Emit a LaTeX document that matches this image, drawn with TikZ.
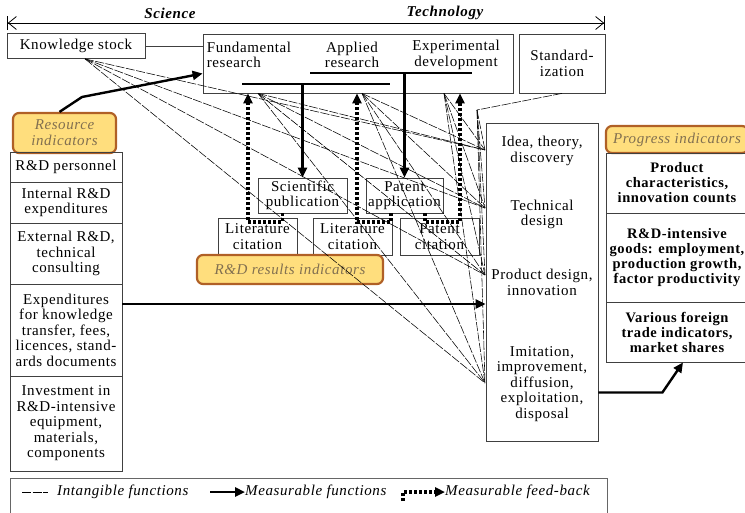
\documentclass[tikz,border=0pt]{standalone}
\usepackage{fontspec}
\setmainfont{Liberation Serif}[LetterSpace=4]
\usepackage{tikz}
\usetikzlibrary{arrows.meta}

\definecolor{indfill}{RGB}{255,222,125}
\definecolor{inddraw}{RGB}{176,96,38}
\definecolor{indtext}{RGB}{130,112,80}

\begin{document}
\begin{tikzpicture}[x=1pt, y=-1pt,
	box/.style={draw=black!75, line width=0.8pt, inner sep=0pt, align=center, font=\fontsize{15}{15.5}\selectfont},
	bbox/.style={box, font=\fontsize{14.5}{15}\selectfont\bfseries},
	ind/.style={draw=inddraw, fill=indfill, line width=2.2pt, rounded corners=6pt, inner sep=0pt, align=center, text=indtext, font=\fontsize{15}{16}\selectfont\itshape},
	txt/.style={inner sep=0pt, align=center, font=\fontsize{15}{15.5}\selectfont},
	legtxt/.style={inner sep=0pt, anchor=west, font=\fontsize{15}{16}\selectfont\itshape},
	intang/.style={line width=0.55pt, dash pattern=on 9pt off 1.5pt},
	meas/.style={line width=2.4pt, -{Triangle[length=10pt,width=9pt]}},
	feed/.style={line width=3.2pt, dash pattern=on 3pt off 2pt, -{Triangle[length=10pt,width=9pt]}}]

	\useasboundingbox (0, 0) rectangle (745, 512);

	\coordinate (scil) at (7, 23);
	\coordinate (tecr) at (605, 23);
	\draw[line width=0.8pt, arrows={{Bar[width=14pt]Straight Barb[length=8pt,width=13pt]}-{Straight Barb[length=8pt,width=13pt]Bar[width=14pt]}}] (scil) -- (tecr);
	\node[font=\fontsize{15}{16}\selectfont\bfseries\itshape] (sci) at (170, 13) {Science};
	\node[font=\fontsize{15}{16}\selectfont\bfseries\itshape] (tec) at (445, 13) {Technology};

	\node[box, minimum width=138, minimum height=25] (ks) at (76, 46) {Knowledge stock};
	\node[box, minimum width=310, minimum height=59] (res) at (358, 63.5) {};
	\node[txt, align=left] (fund) at (249, 55) {Fundamental\\research};
	\node[txt] (appl) at (352, 55) {Applied\\research};
	\node[txt] (expd) at (456, 55) {Experimental\\development};
	\node[box, minimum width=86, minimum height=59] (std) at (562, 63.5) {Standard-\\ization};

	\node[box, minimum width=112, minimum height=318] (idea) at (542, 282) {};
	\node[txt] (s1) at (542, 151) {Idea, theory,\\discovery};
	\node[txt] (s2) at (542, 214.5) {Technical\\design};
	\node[txt] (s3) at (542, 282.5) {Product design,\\innovation};
	\node[txt] (s4) at (542, 384) {Imitation,\\improvement,\\diffusion,\\exploitation,\\disposal};

	\node[ind, minimum width=142, minimum height=27] (prog) at (677, 139.5) {Progress indicators};
	\node[bbox, minimum width=142, minimum height=60] (p1) at (677, 183) {Product\\characteristics,\\innovation counts};
	\node[bbox, minimum width=142, minimum height=89] (p2) at (677, 257.5) {R\&D-intensive\\goods: employment,\\production growth,\\factor productivity};
	\node[bbox, minimum width=142, minimum height=60] (p3) at (677, 332) {Various foreign\\trade indicators,\\market shares};

	\node[ind, minimum width=103, minimum height=40] (ri) at (64.5, 133) {Resource\\indicators};
	\node[box, minimum width=112, minimum height=30] (l1) at (66, 167) {R\&D personnel};
	\node[box, minimum width=112, minimum height=41] (l2) at (66, 202.5) {Internal R\&D\\expenditures};
	\node[box, minimum width=112, minimum height=61] (l3) at (66, 253.5) {External R\&D,\\technical\\consulting};
	\node[box, minimum width=112, minimum height=92] (l4) at (66, 330) {Expenditures\\for knowledge\\transfer, fees,\\licences, stand-\\ards documents};
	\node[box, minimum width=112, minimum height=95] (l5) at (66, 423.5) {Investment in\\R\&D-intensive\\equipment,\\materials,\\components};

	\node[box, minimum width=89, minimum height=35] (sp) at (302.5, 195.5) {Scientific\\publication};
	\node[box, minimum width=77, minimum height=35] (pa) at (404.5, 195.5) {Patent\\application};
	\node[box, minimum width=79, minimum height=37] (lc1) at (257.5, 236.5) {Literature\\citation};
	\node[box, minimum width=79, minimum height=37] (lc2) at (352.5, 236.5) {Literature\\citation};
	\node[box, minimum width=79, minimum height=37] (pc) at (439.5, 236.5) {Patent\\citation};
	\node[ind, minimum width=186, minimum height=29] (rr) at (290, 269.5) {R\&D results indicators};

	\node[draw=black!60, line width=0.8pt, inner sep=0pt, minimum width=597, minimum height=50, anchor=north west] (leg) at (10, 478) {};
	\node[legtxt] (lt1) at (57, 492) {Intangible functions};
	\node[legtxt] (lt2) at (245, 492) {Measurable functions};
	\node[legtxt] (lt3) at (445, 492) {Measurable feed-back};

	\draw[line width=0.8pt, draw=black!75] (ks.east) -- (ks.east -| res.west);

	\coordinate (barA) at (310, 73);
	\coordinate (barF) at (242, 84);
	\draw[line width=1.3pt] (barA) -- ++(162, 0);
	\draw[line width=1.3pt] (barF) -- ++(148, 0);
	\draw[meas] (sp.north |- barF) -- (sp.north);
	\draw[meas] (pa.north |- barA) -- (pa.north);

	\coordinate (fb1) at (248, 222);
	\coordinate (fb2) at (357, 222);
	\coordinate (fb3) at (460, 222);
	\draw[feed] ([xshift=-20pt]sp.south) |- (fb1) -- (fb1 |- res.south);
	\draw[feed] ([xshift=-13.5pt]pa.south) |- (fb2) -- (fb2 |- res.south);
	\draw[feed] ([xshift=20.5pt]pa.south) |- (fb3) -- (fb3 |- res.south);

	\coordinate (rbend) at (82, 97);
	\draw[meas] ([xshift=-5pt]ri.north) -- (rbend) -- ([yshift=-10pt]res.west);
	\draw[meas] ([yshift=26pt]l4.east) -- ([yshift=26pt]l4.east -| idea.west);
	\draw[meas] ([yshift=-110.5pt]idea.east) -- ++(64, 0) -- ([xshift=6pt]p3.south);

	\coordinate (kS) at ([xshift=9pt]ks.south);
	\coordinate (fS) at ([xshift=-100pt]res.south);
	\coordinate (aS) at ([xshift=4pt]res.south);
	\coordinate (eS) at ([xshift=86pt]res.south);
	\coordinate (sS) at (477, 110);
	\coordinate (st1) at (485, 150);
	\coordinate (st2) at (485, 208);
	\coordinate (st3) at (485, 275);
	\coordinate (st4) at (485, 383);

	\path[intang] (std.south) edge (sS);
	\path[intang] (kS) edge (st1);
	\path[intang] (kS) edge (st2);
	\path[intang] (kS) edge (st3);
	\path[intang] (kS) edge (st4);
	\path[intang] (fS) edge (st1);
	\path[intang] (fS) edge (st2);
	\path[intang] (fS) edge (st3);
	\path[intang] (fS) edge (st4);
	\path[intang] (aS) edge (st1);
	\path[intang] (aS) edge (st2);
	\path[intang] (aS) edge (st3);
	\path[intang] (aS) edge (st4);
	\path[intang] (eS) edge (st1);
	\path[intang] (eS) edge (st2);
	\path[intang] (eS) edge (st3);
	\path[intang] (eS) edge (st4);
	\path[intang] (sS) edge (st1);
	\path[intang] (sS) edge (st2);
	\path[intang] (sS) edge (st3);
	\path[intang] (sS) edge (st4);

	\coordinate (lg1) at (22, 492);
	\coordinate (lg2) at (210, 492);
	\coordinate (lg3) at (403, 501);
	\path[intang] (lg1) edge ([xshift=-9pt]lt1.west);
	\draw[meas] (lg2) -- (lt2.west);
	\draw[feed] (lg3) |- (lt3.west);

\end{tikzpicture}
\end{document}
